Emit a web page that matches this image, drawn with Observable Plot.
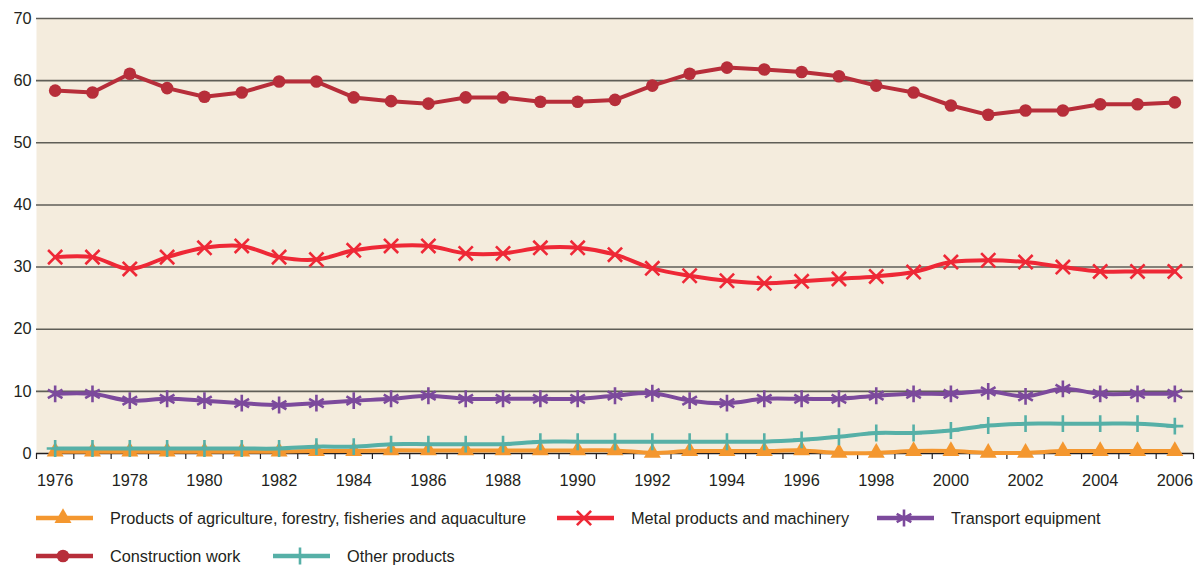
<!DOCTYPE html>
<html><head><meta charset="utf-8">
<script src="https://cdn.jsdelivr.net/npm/d3@7"></script>
<script src="https://cdn.jsdelivr.net/npm/@observablehq/plot@0.6"></script>
<style>
body{margin:0;background:#fff;font-family:"Liberation Sans",Arial,sans-serif;}
#chart{position:relative;width:1198px;height:567px;overflow:hidden;}
#chart > svg{position:absolute;left:0;top:0;}
.leg{position:absolute;display:flex;align-items:center;font-size:16.3px;color:#231f20;height:30px;white-space:nowrap;}
.leg svg{margin-right:17px;}
</style></head><body><div id="chart"></div>
<script>
const years = [1976,1977,1978,1979,1980,1981,1982,1983,1984,1985,1986,1987,1988,1989,1990,1991,1992,1993,1994,1995,1996,1997,1998,1999,2000,2001,2002,2003,2004,2005,2006];
const agriculture = [0.3,0.3,0.3,0.3,0.3,0.3,0.3,0.4,0.4,0.5,0.5,0.5,0.5,0.5,0.5,0.5,0.1,0.4,0.4,0.4,0.5,0.1,0.1,0.4,0.4,0.1,0.1,0.4,0.4,0.4,0.4];
const metal = [31.6,31.6,29.7,31.6,33.1,33.4,31.6,31.2,32.7,33.4,33.4,32.2,32.2,33.1,33.1,32.0,29.8,28.6,27.8,27.4,27.7,28.1,28.5,29.2,30.8,31.1,30.8,30.0,29.3,29.3,29.3];
const transport = [9.6,9.6,8.5,8.8,8.5,8.1,7.8,8.1,8.5,8.8,9.3,8.8,8.8,8.8,8.8,9.3,9.7,8.5,8.1,8.8,8.8,8.8,9.3,9.6,9.6,10.0,9.2,10.4,9.6,9.6,9.6];
const construction = [58.4,58.1,61.1,58.8,57.4,58.1,59.85,59.85,57.3,56.7,56.3,57.3,57.3,56.6,56.6,56.9,59.2,61.1,62.1,61.8,61.4,60.7,59.2,58.1,56.0,54.5,55.2,55.2,56.2,56.2,56.5];
const other = [0.8,0.8,0.8,0.8,0.8,0.8,0.8,1.1,1.1,1.5,1.5,1.5,1.5,1.9,1.9,1.9,1.9,1.9,1.9,1.9,2.2,2.7,3.3,3.3,3.7,4.5,4.8,4.8,4.8,4.8,4.4];
const yTicks = [0,10,20,30,40,50,60,70];
const xLabels = [1976,1978,1980,1982,1984,1986,1988,1990,1992,1994,1996,1998,2000,2002,2004,2006];

const series = [
  {name:"Products of agriculture, forestry, fisheries and aquaculture", values:agriculture, color:"#f4972f", symbol:"triangle", r:6.3, filled:true, curve:"catmull-rom"},
  {name:"Metal products and machinery", values:metal, color:"#ee2836", symbol:"times", r:6.5, filled:false, curve:"catmull-rom"},
  {name:"Transport equipment", values:transport, color:"#7c4a9c", symbol:"asterisk", r:8, filled:false, curve:"catmull-rom"},
  {name:"Construction work", values:construction, color:"#b72e3a", symbol:"circle", r:6.3, filled:true, curve:"linear"},
  {name:"Other products", values:other, color:"#56b0a7", symbol:"plus", r:5.5, filled:false, curve:"catmull-rom"}
];

const drawOrder = [3,1,2,0,4];
const marks = [
  Plot.frame({fill:"#f4ecdd", stroke:null}),
  Plot.ruleY(yTicks.filter(d => d > 0), {stroke:"#5f5e57", strokeWidth:1.6}),
  Plot.axisX(years.map(d => d - 0.5).concat([years[years.length-1] + 0.5]), {tickSize:6, tickFormat:() => "", label:null, stroke:"#231f20", strokeWidth:1.2}),
  Plot.axisX(xLabels, {tickSize:0, tickPadding:21, label:null, tickFormat:d => String(d)}),
  Plot.axisY(yTicks, {tickSize:0, tickPadding:5, label:null}),
  Plot.ruleY([0], {stroke:"#231f20", strokeWidth:1.5})
];
for (const i of drawOrder) {
  const s = series[i];
  const data = years.map((y, k) => ({year:y, value:s.values[k]}));
  marks.push(Plot.line(data, {x:"year", y:"value", stroke:s.color, strokeWidth:4, curve:s.curve}));
  if (s.filled) marks.push(Plot.dot(data, {x:"year", y:"value", symbol:s.symbol, r:s.r, fill:s.color, stroke:null}));
  else marks.push(Plot.dot(data, {x:"year", y:"value", symbol:s.symbol, r:s.r, stroke:s.color, fill:"none", strokeWidth:2.6}));
}

const plot = Plot.plot({
  width:1198, height:495,
  marginTop:18, marginLeft:36, marginRight:5, marginBottom:42,
  style:{fontFamily:"'Liberation Sans', Arial, sans-serif", fontSize:"16.3px", color:"#231f20", background:"transparent", overflow:"visible"},
  x:{domain:[1975.5, 2006.5], label:null},
  y:{domain:[0, 70], label:null},
  marks
});
const chart = document.getElementById("chart");
chart.appendChild(plot);

const symbolMap = {triangle:d3.symbolTriangle, times:d3.symbolTimes, asterisk:d3.symbolAsterisk, circle:d3.symbolCircle, plus:d3.symbolPlus};
const legendPos = [[36,503],[557,503],[877,503],[36,541],[273,541]];
series.forEach((s, i) => {
  const div = d3.select(chart).append("div").attr("class","leg")
    .style("left", legendPos[i][0] + "px").style("top", legendPos[i][1] + "px");
  const svg = div.append("svg").attr("width",57).attr("height",30);
  svg.append("line").attr("x1",0).attr("x2",57).attr("y1",15).attr("y2",15)
    .attr("stroke", s.color).attr("stroke-width",4.5);
  const path = d3.symbol(symbolMap[s.symbol], Math.PI * s.r * s.r)();
  const p = svg.append("path").attr("d", path).attr("transform","translate(27,15)");
  if (s.filled) p.attr("fill", s.color);
  else p.attr("fill","none").attr("stroke", s.color).attr("stroke-width",2.6);
  div.append("span").text(s.name);
});
</script></body></html>
